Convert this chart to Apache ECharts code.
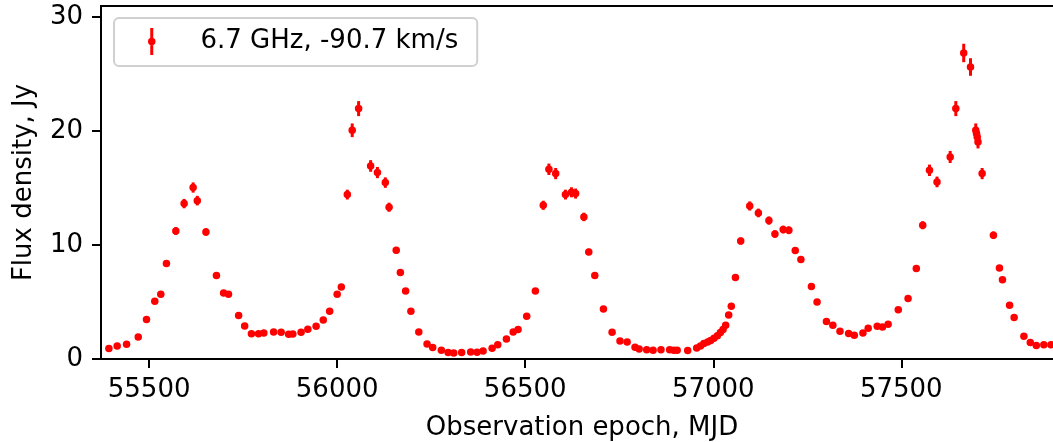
<!DOCTYPE html>
<html>
<head>
<meta charset="utf-8">
<script src="https://cdn.jsdelivr.net/npm/echarts@6/dist/echarts.min.js"></script>
<style>
  html, body { margin: 0; padding: 0; background: #ffffff; }
  #chart { width: 1053px; height: 442px; }
</style>
</head>
<body>
<div id="chart"></div>
<script>
// Maser light curve: observation epochs (MJD), flux densities and uncertainties (Jy)
const mjd = [
  55393, 55415, 55440, 55471, 55493, 55515, 55531, 55546, 55571, 55593,
  55617, 55628, 55651, 55679, 55698, 55711, 55738, 55754, 55772, 55791,
  55805, 55831, 55851, 55871, 55882, 55904, 55922, 55944, 55963, 55980,
  56000, 56011, 56027, 56040, 56057, 56089, 56107, 56128, 56138, 56157,
  56168, 56182, 56196, 56217, 56239, 56254, 56277, 56295, 56310, 56331,
  56355, 56372, 56388, 56412, 56427, 56450, 56468, 56481, 56504, 56527,
  56548, 56563, 56581, 56607, 56623, 56634, 56656, 56669, 56685, 56708,
  56731, 56752, 56771, 56792, 56803, 56823, 56840, 56861, 56884, 56895,
  56904, 56932, 56956, 56966, 56975, 56985, 56993, 57002, 57011, 57019,
  57026, 57033, 57041, 57048, 57059, 57073, 57097, 57120, 57148, 57164,
  57186, 57201, 57218, 57233, 57261, 57276, 57301, 57318, 57337, 57360,
  57375, 57398, 57412, 57436, 57450, 57465, 57492, 57518, 57540, 57557,
  57575, 57595, 57630, 57645, 57666, 57684, 57698, 57700, 57702, 57704,
  57715, 57745, 57761, 57769, 57788, 57800, 57826, 57843, 57859, 57879,
  57898
];
const flux = [
  0.91, 1.14, 1.29, 1.93, 3.46, 5.06, 5.68, 8.37, 11.23, 13.63,
  15.04, 13.89, 11.14, 7.32, 5.79, 5.68, 3.81, 2.89, 2.22, 2.22,
  2.28, 2.37, 2.34, 2.17, 2.19, 2.34, 2.60, 2.87, 3.42, 4.18,
  5.68, 6.32, 14.42, 20.06, 21.96, 16.93, 16.35, 15.47, 13.31, 9.54,
  7.58, 5.96, 4.18, 2.37, 1.32, 1.00, 0.76, 0.56, 0.53, 0.56,
  0.61, 0.59, 0.70, 0.94, 1.26, 1.75, 2.37, 2.58, 3.75, 5.96,
  13.48, 16.64, 16.26, 14.42, 14.62, 14.51, 12.46, 9.39, 7.32, 4.39,
  2.34, 1.58, 1.49, 1.03, 0.88, 0.82, 0.76, 0.82, 0.82, 0.76,
  0.76, 0.74, 0.96, 1.13, 1.35, 1.50, 1.62, 1.82, 2.05, 2.32,
  2.58, 2.96, 3.87, 4.62, 7.14, 10.35, 13.42, 12.81, 12.14, 10.96,
  11.35, 11.29, 9.51, 8.72, 6.35, 5.00, 3.28, 2.96, 2.43, 2.23,
  2.08, 2.28, 2.69, 2.87, 2.81, 3.04, 4.33, 5.30, 7.93, 11.73,
  16.55, 15.53, 17.72, 21.96, 26.84, 25.61, 20.06, 19.77, 19.47, 19.04,
  16.26, 10.85, 7.98, 6.96, 4.71, 3.63, 1.99, 1.44, 1.18, 1.26,
  1.26
];
const fluxErr = [
  0.03, 0.03, 0.04, 0.06, 0.10, 0.15, 0.17, 0.25, 0.34, 0.41,
  0.45, 0.42, 0.33, 0.22, 0.17, 0.17, 0.11, 0.09, 0.07, 0.07,
  0.07, 0.07, 0.07, 0.07, 0.07, 0.07, 0.08, 0.09, 0.10, 0.13,
  0.17, 0.19, 0.43, 0.60, 0.66, 0.51, 0.49, 0.46, 0.40, 0.29,
  0.23, 0.18, 0.13, 0.07, 0.04, 0.03, 0.02, 0.02, 0.02, 0.02,
  0.02, 0.02, 0.02, 0.03, 0.04, 0.05, 0.07, 0.08, 0.11, 0.18,
  0.40, 0.50, 0.49, 0.43, 0.44, 0.44, 0.37, 0.28, 0.22, 0.13,
  0.07, 0.05, 0.04, 0.03, 0.03, 0.02, 0.02, 0.02, 0.02, 0.02,
  0.02, 0.02, 0.03, 0.03, 0.04, 0.05, 0.05, 0.05, 0.06, 0.07,
  0.08, 0.09, 0.12, 0.14, 0.21, 0.31, 0.40, 0.38, 0.36, 0.33,
  0.34, 0.34, 0.29, 0.26, 0.19, 0.15, 0.10, 0.09, 0.07, 0.07,
  0.06, 0.07, 0.08, 0.09, 0.08, 0.09, 0.13, 0.16, 0.24, 0.35,
  0.50, 0.47, 0.53, 0.66, 0.81, 0.77, 0.60, 0.59, 0.58, 0.57,
  0.49, 0.33, 0.24, 0.21, 0.14, 0.11, 0.06, 0.04, 0.04, 0.04,
  0.04
];
const xTicks = [55500, 56000, 56500, 57000, 57500];
const yTicks = [0, 10, 20, 30];
const seriesName = '6.7 GHz, -90.7 km/s';

const FONT = 'DejaVu Sans';
const RED = '#ff0000';

const points = mjd.map((m, i) => [m, flux[i], fluxErr[i]]);

// legend glyph: vertical error bar through a round marker
const errIcon = 'path://M-1.5,-13.5 L1.5,-13.5 L1.5,13.5 L-1.5,13.5 Z ' +
  'M-3.75,0 A3.75,3.75 0 1 1 3.75,0 A3.75,3.75 0 1 1 -3.75,0 Z';

const chart = echarts.init(document.getElementById('chart'), null, { renderer: 'canvas' });

chart.setOption({
  animation: false,
  backgroundColor: '#ffffff',
  grid: {
    left: 101, top: 6, right: -10, bottom: 83,
    outerBoundsMode: 'none',
    containLabel: false,
    show: true, borderColor: '#000000', borderWidth: 2,
    backgroundColor: 'transparent'
  },
  legend: {
    data: [{ name: seriesName, icon: errIcon }],
    left: 114, top: 18,
    orient: 'horizontal',
    selectedMode: false,
    itemWidth: 7.5, itemHeight: 27,
    padding: [10, 19, 11, 34],
    backgroundColor: '#ffffff',
    borderColor: '#d0d0d0', borderWidth: 2, borderRadius: 5,
    itemStyle: { color: RED },
    textStyle: { fontFamily: FONT, fontSize: 26, color: '#000000', padding: [0, 0, 0, 40] }
  },
  xAxis: {
    type: 'value',
    min: 55372, max: 57930, interval: 500,
    name: 'Observation epoch, MJD',
    nameLocation: 'middle', nameGap: 56,
    nameTextStyle: { fontFamily: FONT, fontSize: 26, color: '#000000' },
    axisLine: { show: true, lineStyle: { color: '#000000', width: 2 } },
    axisTick: { show: true, length: 9, lineStyle: { color: '#000000', width: 2 }, customValues: xTicks },
    axisLabel: {
      fontFamily: FONT, fontSize: 26, color: '#000000', margin: 18,
      customValues: xTicks, formatter: v => String(v)
    },
    splitLine: { show: false }
  },
  yAxis: {
    type: 'value',
    min: 0, max: 30.96, interval: 10,
    name: 'Flux density, Jy',
    nameLocation: 'middle', nameGap: 64, nameRotate: 90,
    nameTextStyle: { fontFamily: FONT, fontSize: 26, color: '#000000' },
    axisLine: { show: true, lineStyle: { color: '#000000', width: 2 } },
    axisTick: { show: true, length: 9, lineStyle: { color: '#000000', width: 2 }, customValues: yTicks },
    axisLabel: {
      fontFamily: FONT, fontSize: 26, color: '#000000', margin: 18,
      customValues: yTicks, formatter: v => String(v)
    },
    splitLine: { show: false }
  },
  series: [
    {
      // error bars
      type: 'custom',
      name: seriesName + ' err',
      data: points,
      clip: true,
      silent: true,
      z: 2,
      renderItem: (params, api) => {
        const x = api.value(0), y = api.value(1), e = api.value(2);
        const lo = api.coord([x, y - e]);
        const hi = api.coord([x, y + e]);
        return {
          type: 'line',
          shape: { x1: lo[0], y1: lo[1], x2: hi[0], y2: hi[1] },
          style: { stroke: RED, lineWidth: 3 }
        };
      }
    },
    {
      type: 'scatter',
      name: seriesName,
      data: points,
      symbol: 'circle',
      symbolSize: 7.5,
      itemStyle: { color: RED, opacity: 1 },
      emphasis: { disabled: true },
      silent: true,
      z: 3
    }
  ]
});
</script>
</body>
</html>
